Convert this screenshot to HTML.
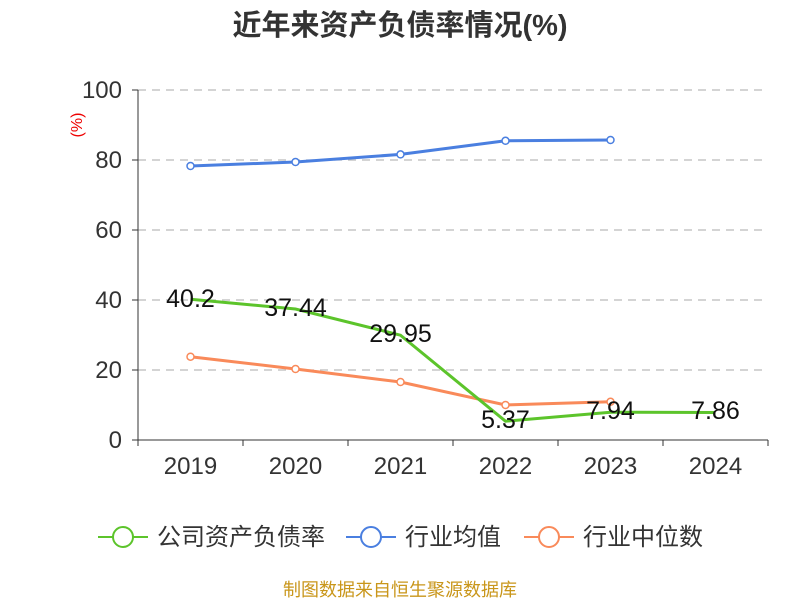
<!DOCTYPE html>
<html><head><meta charset="utf-8"><style>
body{margin:0;background:#fff;}
text{font-family:"Liberation Sans","Noto Sans CJK SC",sans-serif;}
</style></head><body>
<svg width="800" height="600" xmlns="http://www.w3.org/2000/svg">
<text x="400" y="35" text-anchor="middle" font-size="29" font-weight="bold" fill="#333">近年来资产负债率情况(%)</text>
<g stroke="#bbb" stroke-dasharray="8,6" stroke-width="1.2">
<line x1="138" y1="90" x2="768" y2="90"/><line x1="138" y1="160" x2="768" y2="160"/>
<line x1="138" y1="230" x2="768" y2="230"/><line x1="138" y1="300" x2="768" y2="300"/>
<line x1="138" y1="370" x2="768" y2="370"/>
</g>
<line x1="138" y1="90" x2="138" y2="440" stroke="#333"/>
<line x1="138" y1="440" x2="768" y2="440" stroke="#333"/>
<g stroke="#333">
<line x1="132" y1="90" x2="138" y2="90"/><line x1="132" y1="160" x2="138" y2="160"/><line x1="132" y1="230" x2="138" y2="230"/><line x1="132" y1="300" x2="138" y2="300"/><line x1="132" y1="370" x2="138" y2="370"/><line x1="132" y1="440" x2="138" y2="440"/>
<line x1="138" y1="440" x2="138" y2="446"/><line x1="243" y1="440" x2="243" y2="446"/><line x1="348" y1="440" x2="348" y2="446"/><line x1="453" y1="440" x2="453" y2="446"/><line x1="558" y1="440" x2="558" y2="446"/><line x1="663" y1="440" x2="663" y2="446"/><line x1="768" y1="440" x2="768" y2="446"/>
</g>
<g font-size="24" fill="#333" text-anchor="end">
<text x="122" y="98">100</text><text x="122" y="168">80</text><text x="122" y="238">60</text><text x="122" y="308">40</text><text x="122" y="378">20</text><text x="122" y="448">0</text>
</g>
<g font-size="24" fill="#333" text-anchor="middle">
<text x="190.5" y="474">2019</text><text x="295.5" y="474">2020</text><text x="400.5" y="474">2021</text><text x="505.5" y="474">2022</text><text x="610.5" y="474">2023</text><text x="715.5" y="474">2024</text>
</g>
<text transform="translate(82,125) rotate(-90)" text-anchor="middle" font-size="16" fill="#e00">(%)</text>
<polyline points="190.5,166 295.5,162 400.5,154.4 505.5,140.8 610.5,140" fill="none" stroke="#4a7fe0" stroke-width="3"/>
<g fill="#fff" stroke="#4a7fe0" stroke-width="1.5"><circle cx="190.5" cy="166" r="3.5"/><circle cx="295.5" cy="162" r="3.5"/><circle cx="400.5" cy="154.4" r="3.5"/><circle cx="505.5" cy="140.8" r="3.5"/><circle cx="610.5" cy="140" r="3.5"/></g>
<polyline points="190.5,356.7 295.5,369 400.5,382 505.5,405 610.5,401.8" fill="none" stroke="#f98a5a" stroke-width="3"/>
<g fill="#fff" stroke="#f98a5a" stroke-width="1.5"><circle cx="190.5" cy="356.7" r="3.5"/><circle cx="295.5" cy="369" r="3.5"/><circle cx="400.5" cy="382" r="3.5"/><circle cx="505.5" cy="405" r="3.5"/><circle cx="610.5" cy="401.8" r="3.5"/></g>
<polyline points="190.5,299.3 295.5,309 400.5,335.2 505.5,421.2 610.5,412.2 715.5,412.5" fill="none" stroke="#5cc42b" stroke-width="3"/>
<g font-size="25" fill="#111" text-anchor="middle">
<text x="190.5" y="307">40.2</text><text x="295.5" y="316">37.44</text><text x="400.5" y="342">29.95</text><text x="505.5" y="428">5.37</text><text x="610.5" y="419">7.94</text><text x="715.5" y="419">7.86</text>
</g>
<g stroke-width="2" fill="#fff">
<line x1="98" y1="537" x2="148" y2="537" stroke="#5cc42b"/><circle cx="123" cy="537" r="10" stroke="#5cc42b"/>
<line x1="346" y1="537" x2="396" y2="537" stroke="#4a7fe0"/><circle cx="371" cy="537" r="10" stroke="#4a7fe0"/>
<line x1="524" y1="537" x2="574" y2="537" stroke="#f98a5a"/><circle cx="549" cy="537" r="10" stroke="#f98a5a"/>
</g>
<g font-size="24" fill="#333">
<text x="157" y="545">公司资产负债率</text><text x="405" y="545">行业均值</text><text x="583" y="545">行业中位数</text>
</g>
<text x="400" y="596" text-anchor="middle" font-size="18" fill="#c9961a">制图数据来自恒生聚源数据库</text>
</svg>
</body></html>
